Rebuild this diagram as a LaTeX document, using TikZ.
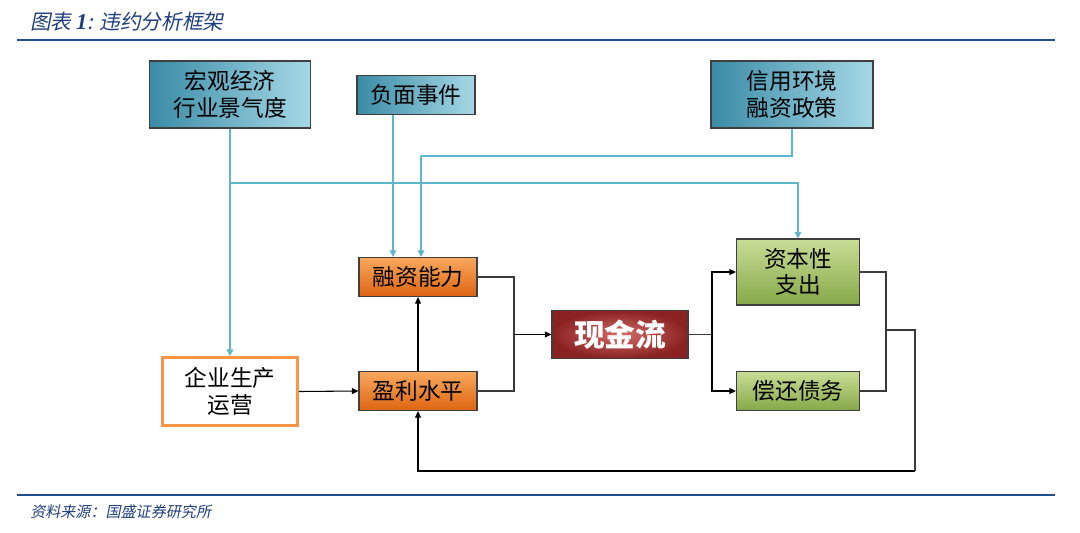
\documentclass[tikz,border=0pt]{standalone}
\usepackage{fontspec}
\newfontfamily\cjk{Noto Sans CJK SC}
\newfontfamily\cjkit[FakeSlant=0.2]{Noto Sans CJK SC}
\newfontfamily\latinbi{Liberation Serif Bold Italic}
\usetikzlibrary{arrows.meta,calc}

\definecolor{titleblue}{HTML}{1F3F7A}
\definecolor{ruleblue}{HTML}{1F4E8C}
\definecolor{tealdark}{HTML}{3A8BA6}
\definecolor{teallight}{HTML}{A6D8E6}
\definecolor{orangetop}{HTML}{F8A85E}
\definecolor{orangebot}{HTML}{DD6512}
\definecolor{greentop}{HTML}{C8DD96}
\definecolor{greenbot}{HTML}{86A848}
\definecolor{cashin}{HTML}{D46C6C}
\definecolor{cashout}{HTML}{8A2222}
\definecolor{opsedge}{HTML}{F79646}
\definecolor{boxedge}{HTML}{3F3F3F}
\definecolor{linkblue}{HTML}{5DB6CA}
\definecolor{linkgray}{HTML}{3A3A3A}

\begin{document}
\begin{tikzpicture}[x=0.75pt,y=-0.75pt,
    every node/.style={font=\cjk\fontsize{17}{20}\selectfont, align=center, inner sep=0pt},
    topbox/.style={draw=boxedge, line width=0.8pt, left color=tealdark, right color=teallight},
    orangebox/.style={draw=boxedge, line width=0.8pt, top color=orangetop, bottom color=orangebot},
    greenbox/.style={draw=boxedge, line width=0.8pt, top color=greentop, bottom color=greenbot},
    cashbox/.style={draw=boxedge, line width=0.8pt, inner color=cashin, outer color=cashout,
        text=white, font=\cjk\bfseries\fontsize{23}{26}\selectfont},
    opsbox/.style={draw=opsedge, line width=2.2pt, fill=white},
    bluearrow/.style={draw=linkblue, line width=1pt, -{Triangle[length=5pt,width=5pt]}},
    blueline/.style={draw=linkblue, line width=1pt},
    grayarrow/.style={draw=linkgray, line width=0.8pt, -{Triangle[length=5pt,width=4.5pt]}, color=black},
    grayline/.style={draw=linkgray, line width=0.8pt},
    ]
    \useasboundingbox (0,0) rectangle (1080,532);

    % header and footer
    \node[anchor=west, text=titleblue, font=\fontsize{15.5}{18}\selectfont] (title) at (30,22)
        {{\cjkit 图表 }{\latinbi\fontsize{17}{18}\selectfont 1}{\cjkit : 违约分析框架}};
    \draw[ruleblue, line width=1.5pt] (17,40) -- (1055,40);
    \draw[ruleblue, line width=1.5pt] (17,495) -- (1055,495);
    \node[anchor=west, text=titleblue, font=\cjkit\fontsize{11.3}{13}\selectfont] (source) at (30,512)
        {资料来源：国盛证券研究所};

    % boxes
    \node[topbox, minimum width=120.75pt, minimum height=50.25pt] (macro) at (230,94.5) {宏观经济\\行业景气度};
    \node[topbox, minimum width=88.5pt, minimum height=29.25pt] (neg) at (416,95) {负面事件};
    \node[topbox, minimum width=121.5pt, minimum height=50.25pt] (credit) at (792,94.5) {信用环境\\融资政策};
    \node[orangebox, minimum width=88.5pt, minimum height=29.25pt] (fin) at (418,277) {融资能力};
    \node[orangebox, minimum width=88.5pt, minimum height=29.25pt] (profit) at (418,391) {盈利水平};
    \node[opsbox, minimum width=101.25pt, minimum height=51pt] (ops) at (230,391.5) {企业生产\\运营};
    \node[cashbox, minimum width=102pt, minimum height=36pt] (cash) at (620,334.5) {现金流};
    \node[greenbox, minimum width=92.25pt, minimum height=49.5pt] (capex) at (798,272) {资本性\\支出};
    \node[greenbox, minimum width=92.25pt, minimum height=29.25pt] (repay) at (798,391) {偿还债务};

    % junctions
    \coordinate (mj) at (230,183);
    \coordinate (cj) at (421,156);
    \coordinate (nj) at (393,0);
    \coordinate (lj) at (514,334.5);
    \coordinate (rj) at (712,334.5);
    \coordinate (oj) at (886,330);
    \coordinate (fb) at (915,471);

    % blue links
    \draw[bluearrow] (macro.south) -- (ops.north);
    \draw[bluearrow] (mj) -| (capex.north);
    \draw[bluearrow] (neg.south -| nj) -- (nj |- fin.north);
    \draw[blueline] (credit.south) |- (cj);
    \draw[bluearrow] (cj) -- (cj |- fin.north);

    % gray links
    \draw[grayarrow] (ops.east) -- (profit.west);
    \draw[grayarrow] (profit.north) -- (fin.south);
    \draw[grayline] (fin.east) -| (lj);
    \draw[grayline] (profit.east) -| (lj);
    \draw[grayarrow] (lj) -- (cash.west);
    \draw[grayline] (cash.east) -- (rj);
    \draw[grayarrow] (rj) |- (capex.west);
    \draw[grayarrow] (rj) |- (repay.west);
    \draw[grayline] (capex.east) -| (oj);
    \draw[grayline] (repay.east) -| (oj);
    \draw[grayline] (oj) -| (fb);
    \draw[grayarrow] (fb) -| (profit.south);

\end{tikzpicture}
\end{document}
